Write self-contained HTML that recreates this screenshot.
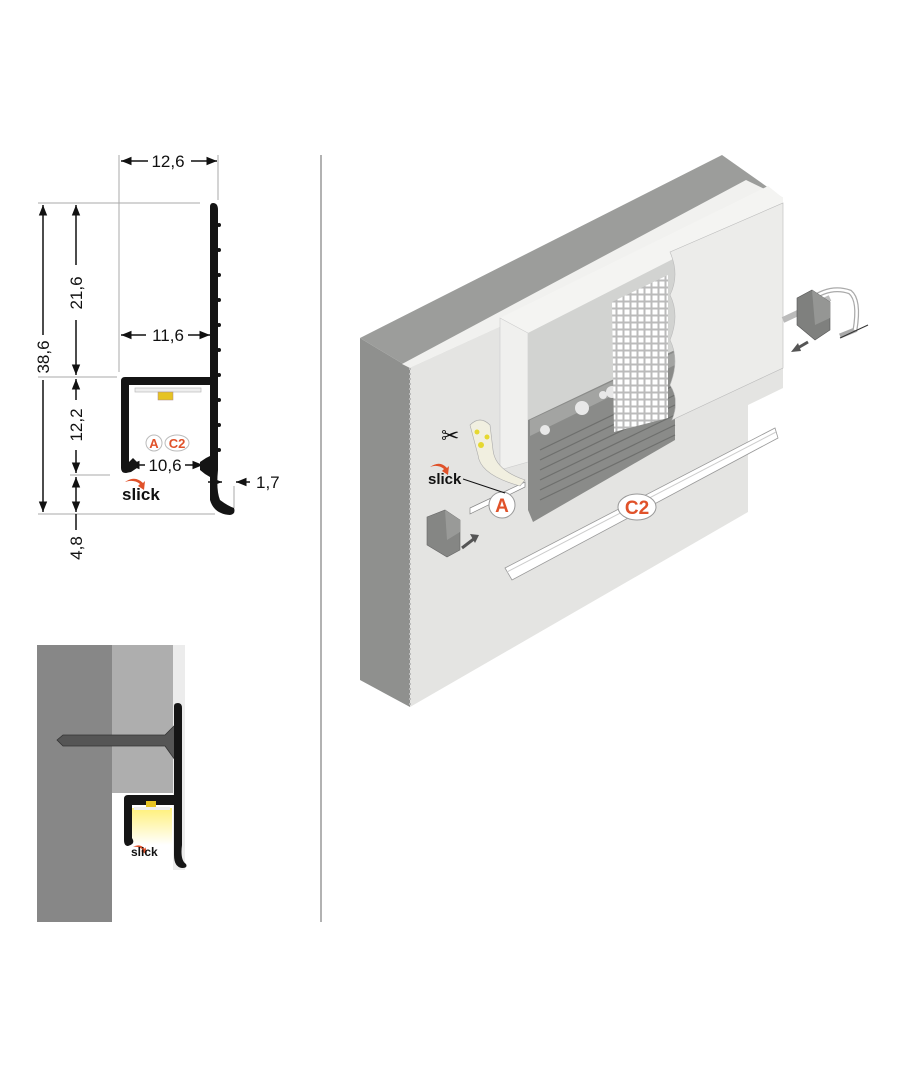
<!DOCTYPE html>
<html><head><meta charset="utf-8"><style>
html,body{margin:0;padding:0;background:#fff;}
svg{display:block;}
text{font-family:"Liberation Sans",sans-serif;}
</style></head><body>
<svg width="910" height="1080" viewBox="0 0 910 1080" xmlns="http://www.w3.org/2000/svg">
<defs>
<marker id="ar" viewBox="0 0 10 10" refX="10" refY="5" markerWidth="7" markerHeight="7" orient="auto-start-reverse"><path d="M0,1 L10,5 L0,9 z" fill="#111"/></marker>
<pattern id="mesh" width="7" height="7" patternUnits="userSpaceOnUse"><rect width="7" height="7" fill="#bbb"/><rect x="1.5" y="1.5" width="5" height="5" fill="#fff"/></pattern>
<linearGradient id="glow" x1="0" y1="0" x2="0" y2="1"><stop offset="0" stop-color="#fff07a"/><stop offset="1" stop-color="#fff"/></linearGradient>
</defs>

<!-- ===== Left profile drawing ===== -->
<g stroke="#aaa" stroke-width="1">
<line x1="119" y1="155" x2="119" y2="372"/>
<line x1="218" y1="155" x2="218" y2="200"/>
<line x1="38" y1="203" x2="200" y2="203"/>
<line x1="38" y1="377" x2="117" y2="377"/>
<line x1="70" y1="475" x2="110" y2="475"/>
<line x1="38" y1="514" x2="215" y2="514"/>
<line x1="234" y1="486" x2="234" y2="508"/>
</g>
<g stroke="#111" stroke-width="1.5" fill="none">
<line x1="121" y1="161" x2="148" y2="161" marker-start="url(#ar)"/>
<line x1="191" y1="161" x2="217" y2="161" marker-end="url(#ar)"/>
<line x1="43" y1="205" x2="43" y2="335" marker-start="url(#ar)"/>
<line x1="43" y1="380" x2="43" y2="512" marker-end="url(#ar)"/>
<line x1="76" y1="205" x2="76" y2="265" marker-start="url(#ar)"/>
<line x1="76" y1="320" x2="76" y2="375" marker-end="url(#ar)"/>
<line x1="76" y1="379" x2="76" y2="400" marker-start="url(#ar)"/>
<line x1="76" y1="450" x2="76" y2="473" marker-end="url(#ar)"/>
<line x1="76" y1="477" x2="76" y2="512" marker-start="url(#ar)" marker-end="url(#ar)"/>
<line x1="76" y1="514" x2="76" y2="530"/>
<line x1="121" y1="335" x2="146" y2="335" marker-start="url(#ar)"/>
<line x1="188" y1="335" x2="210" y2="335" marker-end="url(#ar)"/>
<line x1="129" y1="465" x2="145" y2="465" marker-start="url(#ar)"/>
<line x1="185" y1="465" x2="203" y2="465" marker-end="url(#ar)"/>
<line x1="208" y1="482" x2="222" y2="482" marker-end="url(#ar)"/>
<line x1="250" y1="482" x2="236" y2="482" marker-end="url(#ar)"/>
</g>
<g font-size="17" fill="#111">
<text x="168" y="167" text-anchor="middle">12,6</text>
<text x="168" y="341" text-anchor="middle">11,6</text>
<text x="165" y="471" text-anchor="middle">10,6</text>
<text x="256" y="488">1,7</text>
<text transform="translate(49,357) rotate(-90)" text-anchor="middle">38,6</text>
<text transform="translate(82,293) rotate(-90)" text-anchor="middle">21,6</text>
<text transform="translate(82,425) rotate(-90)" text-anchor="middle">12,2</text>
<text transform="translate(82,548) rotate(-90)" text-anchor="middle">4,8</text>
</g>
<path d="M213,203 Q218,203 218,210 L218,470 Q216,490 220,500 Q228,506 234,508 Q236,514 230,515 Q214,514 210,500 L210,477 L205,474 L200,470 L200,462 L206,458 L210,456 L210,385 L129,385 L129,462 L133,458 L137,462 L137,468 L131,472 L126,473 Q121,473 121,468 L121,381 Q121,377 125,377 L210,377 L210,207 Q210,203 213,203 Z" fill="#141414"/>
<g fill="#141414"><circle cx="219" cy="225" r="2"/><circle cx="219" cy="250" r="2"/><circle cx="219" cy="275" r="2"/><circle cx="219" cy="300" r="2"/><circle cx="219" cy="325" r="2"/><circle cx="219" cy="350" r="2"/><circle cx="219" cy="375" r="2"/><circle cx="219" cy="400" r="2"/><circle cx="219" cy="425" r="2"/><circle cx="219" cy="450" r="2"/></g>
<rect x="135" y="388" width="66" height="4" fill="#eee" stroke="#bbb" stroke-width="0.7"/>
<rect x="158" y="392" width="15" height="8" fill="#e6c323" stroke="#a88" stroke-width="0.5"/>
<g font-weight="bold" font-size="13" fill="#e0522a" text-anchor="middle">
<ellipse cx="154" cy="443" rx="8" ry="8" fill="#fff" stroke="#bbb"/>
<ellipse cx="177" cy="443" rx="12" ry="8" fill="#fff" stroke="#bbb"/>
<text x="154" y="448">A</text><text x="177" y="448">C2</text>
</g>
<path d="M125,482 Q135,475 143,483 L145,481 L144,490 L138,486 L140,484 Q134,479 125,482 Z" fill="#e0522a"/>
<text x="122" y="500" font-size="17" font-weight="bold" fill="#111">slick</text>

<line x1="321" y1="155" x2="321" y2="922" stroke="#666" stroke-width="1"/>

<!-- ===== Bottom-left section ===== -->
<rect x="37" y="645" width="75" height="277" fill="#878787"/>
<rect x="112" y="645" width="61" height="148" fill="#aeaeae"/>
<rect x="173" y="645" width="12" height="225" fill="#ececec"/>
<path d="M57,740 L63,735 L165,735 L175,725 L175,760 L165,746 L63,746 Z" fill="#555" stroke="#333" stroke-width="0.8"/>
<path d="M132,808 L172,808 L172,845 L132,845 Z" fill="url(#glow)"/>
<path d="M178,703 Q182,703 182,708 L182,845 Q180,860 186,864 Q188,868 182,868 Q174,867 174,855 L174,805 L132,805 L132,838 Q136,844 128,846 Q124,846 124,840 L124,799 Q124,795 128,795 L174,795 L174,706 Q174,703 178,703 Z" fill="#151515"/>
<rect x="134" y="807" width="36" height="3" fill="#eee"/>
<rect x="146" y="801" width="10" height="6" fill="#e6c323"/>
<path d="M133,847 Q140,843 145,849 L146,847 L146,854 L141,851 L143,850 Q139,846 133,847 Z" fill="#e0522a"/>
<text x="131" y="856" font-size="12" font-weight="bold" fill="#111">slick</text>

<!-- ===== 3D view ===== -->
<polygon points="360,338 410,368 410,707 360,680" fill="#8f908e"/>
<polygon points="360,338 722,155 783,198 410,368" fill="#9c9d9b"/>
<polygon points="402,364 746,180 783,198 410,368" fill="#f1f1ef"/>
<polygon points="410,368 783,198 783,388 748,405 748,512 410,707" fill="#e4e4e2"/>
<line x1="410" y1="368" x2="410" y2="707" stroke="#bbb" stroke-width="2" stroke-dasharray="2,3"/>
<polygon points="500,318 768,186 783,198 783,204 528,333" fill="#f4f4f2"/>
<polygon points="500,318 528,333 528,462 500,470" fill="#f0f0ee" stroke="#ccc" stroke-width="0.6"/>
<polygon points="528,333 675,258 675,350 528,420" fill="#d2d3d1"/>
<polygon points="528,420 675,350 675,440 545,515 533,522 528,510" fill="#8a8b89"/>
<g stroke="#6e6f6d" stroke-width="1.2">
<line x1="540" y1="450" x2="675" y2="385"/><line x1="540" y1="460" x2="675" y2="395"/><line x1="540" y1="470" x2="675" y2="405"/><line x1="540" y1="480" x2="675" y2="415"/><line x1="540" y1="490" x2="675" y2="425"/><line x1="540" y1="500" x2="675" y2="435"/>
</g>
<polygon points="530,420 675,352 675,365 530,436" fill="#a3a4a2"/>
<circle cx="582" cy="408" r="7" fill="#e8e8e8"/><circle cx="603" cy="395" r="4" fill="#e8e8e8"/><circle cx="612" cy="392" r="6" fill="#e8e8e8"/><circle cx="545" cy="430" r="5" fill="#e8e8e8"/>
<polygon points="612,302 668,275 668,418 614,432" fill="url(#mesh)"/>
<path d="M670,252 L783,203 L783,368 L672,420 Q680,400 670,385 Q680,360 670,340 Q680,315 670,295 Q680,275 670,252 Z" fill="#ececea" stroke="#bbb" stroke-width="0.6"/>
<polygon points="470,508 525,482 525,487 470,514" fill="#fff" stroke="#888" stroke-width="0.7"/>
<path d="M470,425 Q480,415 490,425 L493,450 Q495,470 525,480 L520,486 Q480,475 478,455 Z" fill="#f1efe0" stroke="#aaa" stroke-width="0.6"/>
<circle cx="477" cy="432" r="2.5" fill="#e6d830"/><circle cx="487" cy="437" r="2.5" fill="#e6d830"/><circle cx="481" cy="445" r="3" fill="#e6d830"/>
<polygon points="505,568 775,428 778,438 512,580" fill="#fff" stroke="#999" stroke-width="0.8"/>
<line x1="507" y1="572" x2="776" y2="432" stroke="#ccc"/>
<g font-weight="bold" font-size="19" fill="#e0522a" text-anchor="middle">
<ellipse cx="502" cy="505" rx="13" ry="13" fill="#fff" stroke="#999"/>
<text x="502" y="512">A</text>
<ellipse cx="637" cy="507" rx="19" ry="13" fill="#fff" stroke="#999"/>
<text x="637" y="514">C2</text>
</g>
<path d="M430,467 Q440,460 447,468 L449,466 L448,475 L442,471 L444,469 Q438,464 430,467 Z" fill="#e0522a"/>
<text x="428" y="484" font-size="15" font-weight="bold" fill="#111">slick</text>
<line x1="463" y1="479" x2="505" y2="493" stroke="#111" stroke-width="1"/>
<text x="441" y="443" font-size="22" fill="#111">✂</text>
<polygon points="427,517 445,510 460,520 460,550 447,557 427,545" fill="#858684" stroke="#666" stroke-width="0.6"/>
<polygon points="445,510 460,520 460,532 447,540" fill="#999a98"/>
<path d="M462,548 L475,538" stroke="#555" stroke-width="3"/><path d="M470,534 L479,535 L475,543 Z" fill="#555"/>
<path d="M783,320 L830,298" stroke="#bbb" stroke-width="6"/>
<path d="M810,300 Q830,285 850,292 Q860,300 855,330 L840,336" stroke="#aaa" stroke-width="5" fill="none"/>
<path d="M810,300 Q830,285 850,292 Q860,300 855,330" stroke="#fff" stroke-width="2.5" fill="none"/>
<polygon points="797,298 812,290 830,302 830,330 815,340 797,325" fill="#7f807e" stroke="#555" stroke-width="0.6"/>
<polygon points="812,290 830,302 830,318 815,325" fill="#959694"/>
<line x1="840" y1="338" x2="868" y2="325" stroke="#333" stroke-width="1"/>
<path d="M808,342 L796,349" stroke="#555" stroke-width="3"/><path d="M791,352 L798,343 L801,351 Z" fill="#555"/>
</svg>
</body></html>
